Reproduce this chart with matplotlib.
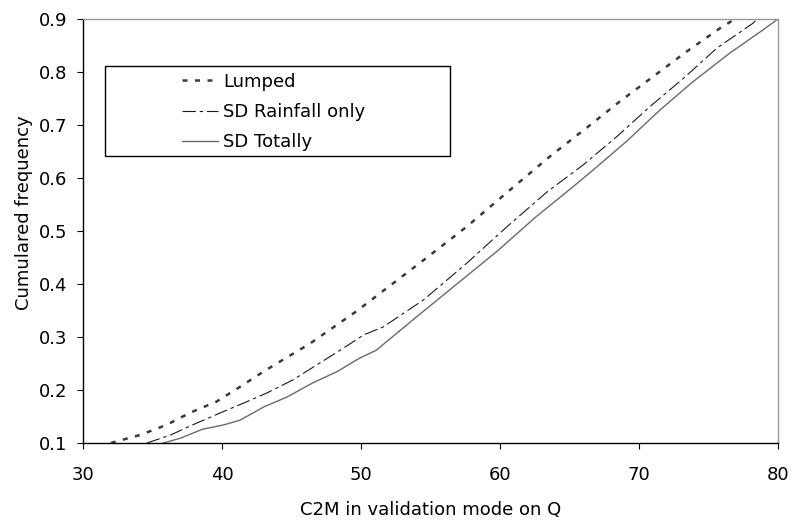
import matplotlib
matplotlib.use('Agg')
import matplotlib.pyplot as plt
from matplotlib.patches import Rectangle

# Cumulative frequency curves
lumped_x = [32.0, 34.1, 36.0, 37.7, 39.6, 41.3, 43.0, 44.7, 46.3, 48.0, 49.7,
            51.3, 54.5, 57.6, 60.7, 63.7, 66.2, 68.6, 71.0, 73.4, 75.8, 76.9]
lumped_y = [0.100, 0.115, 0.134, 0.157, 0.178, 0.206, 0.235, 0.262, 0.287, 0.318, 0.349,
            0.381, 0.445, 0.508, 0.577, 0.643, 0.694, 0.744, 0.791, 0.838, 0.882, 0.900]

rain_x = [34.6, 36.3, 37.7, 39.9, 41.8, 43.2, 45.1, 46.8, 48.5, 50.2, 51.6,
          54.5, 57.6, 60.5, 63.4, 66.0, 68.4, 70.8, 73.2, 75.6, 78.2, 78.5]
rain_y = [0.100, 0.115, 0.132, 0.157, 0.178, 0.194, 0.219, 0.247, 0.275, 0.304, 0.319,
          0.370, 0.439, 0.508, 0.574, 0.625, 0.678, 0.735, 0.788, 0.845, 0.892, 0.900]

total_x = [35.8, 37.0, 38.6, 40.1, 41.3, 43.0, 44.7, 46.5, 48.3, 49.9, 51.1,
           54.0, 56.9, 59.8, 62.6, 65.0, 66.7, 69.1, 71.5, 73.9, 76.5, 78.9, 80.0]
total_y = [0.100, 0.109, 0.126, 0.134, 0.143, 0.168, 0.187, 0.213, 0.235, 0.260, 0.275,
           0.338, 0.400, 0.462, 0.527, 0.578, 0.615, 0.669, 0.728, 0.782, 0.835, 0.879, 0.900]

labels = ['Lumped', 'SD Rainfall only', 'SD Totally']
x_ticks = [30, 40, 50, 60, 70, 80]
y_ticks = [0.1, 0.2, 0.3, 0.4, 0.5, 0.6, 0.7, 0.8, 0.9]

plt.rcParams['font.family'] = ['DejaVu Sans']
fs = 13

fig = plt.figure(figsize=(7.92, 5.23), dpi=100)
ax = fig.add_axes([0.1048, 0.153, 0.8775, 0.8107])

ax.plot(lumped_x, lumped_y, color='#3a3a3a', lw=1.8,
        linestyle=(0, (2.0, 3.0)), label=labels[0])
ax.plot(rain_x, rain_y, color='#1a1a1a', lw=0.8,
        linestyle=(0, (12, 3.5, 3, 3.5)), label=labels[1])
ax.plot(total_x, total_y, color='#6a6a6a', lw=1.0, label=labels[2])

ax.set_xlim(30, 80)
ax.set_ylim(0.1, 0.9)
ax.set_xticks(x_ticks)
ax.set_yticks(y_ticks)
ax.set_xticklabels([str(v) for v in x_ticks])
ax.set_yticklabels(['%.1f' % v for v in y_ticks])
ax.tick_params(axis='x', direction='out', length=4.5, width=0.8, pad=12, labelsize=fs)
ax.tick_params(axis='y', direction='out', length=4.5, width=0.8, pad=7, labelsize=fs)

for s in ['top', 'right']:
    ax.spines[s].set_color('#999999')
    ax.spines[s].set_linewidth(1.0)
for s in ['left', 'bottom']:
    ax.spines[s].set_color('black')
    ax.spines[s].set_linewidth(1.0)

ax.set_xlabel('C2M in validation mode on Q', fontsize=fs, labelpad=12)
ax.set_ylabel('Cumulared frequency', fontsize=fs, labelpad=2)
ax.yaxis.set_label_coords(-0.072, 0.542)

# legend box (wider than the entries, as in the original)
ax.add_patch(Rectangle((0.0317, 0.677), 0.4963, 0.212, transform=ax.transAxes,
                       fill=False, edgecolor='black', lw=1.0, zorder=5))
leg = ax.legend(loc='center left', bbox_to_anchor=(0.1424, 0.781), frameon=False,
                fontsize=fs, handlelength=2.0, handletextpad=0.3,
                labelspacing=0.68, borderpad=0, borderaxespad=0)

plt.savefig('out.png', dpi=100)
